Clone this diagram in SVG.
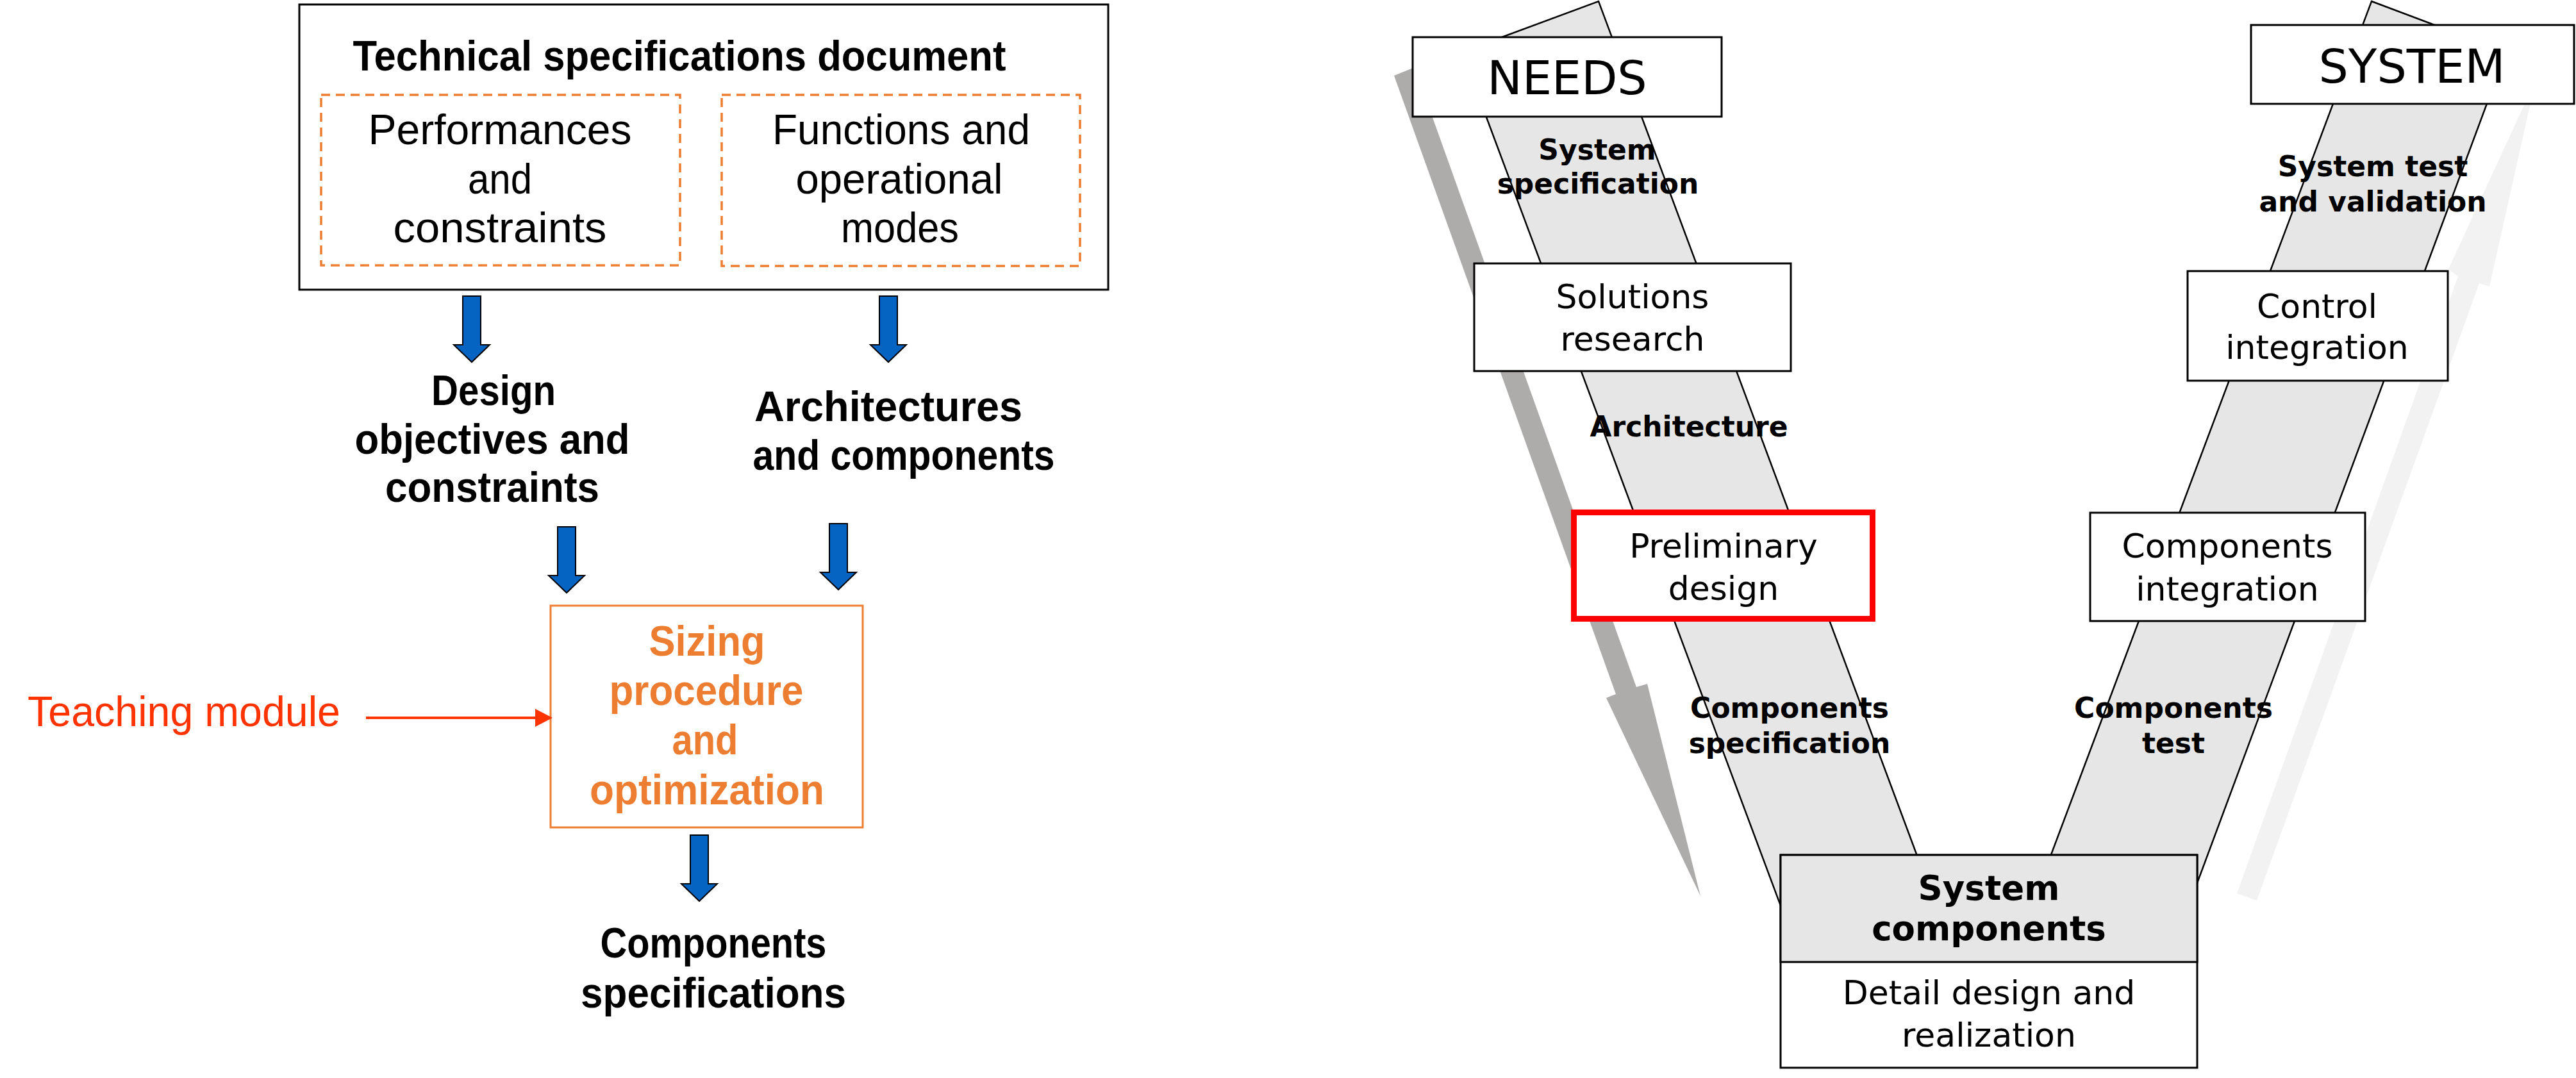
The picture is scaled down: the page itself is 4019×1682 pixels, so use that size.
<svg xmlns="http://www.w3.org/2000/svg" width="4019" height="1682" viewBox="0 0 4019 1682">
<style>
.hand{font-family:"Liberation Sans",Arial,sans-serif;font-size:67px;fill:#000;text-anchor:middle}
.b{font-weight:bold}
.org{fill:#ED7D31}
.red{fill:#FF3300}
.v{font-family:"DejaVu Sans",Verdana,sans-serif;fill:#000;text-anchor:middle}
.vbox{font-size:52px}
.vlab{font-size:44px;font-weight:bold}
.big{font-size:73px}
.box{fill:#fff;stroke:#000;stroke-width:3}
.dash{fill:none;stroke:#ED7D31;stroke-width:3.5;stroke-dasharray:14 9}
.band{fill:#E6E6E6;stroke:#000;stroke-width:2.5;stroke-linejoin:miter}
</style>
<defs>
<path id="barrow" d="M-14,-103 L14,-103 L14,-27 L28,-27 L0,0 L-28,-27 L-14,-27 Z" fill="#0563C1" stroke="#000" stroke-width="2"/>
</defs>

<!-- LEFT: flow -->
<g id="spec-doc">
<rect x="467" y="7" width="1262" height="445" fill="#fff" stroke="#000" stroke-width="3"/>
<text class="hand b" x="1060" y="110" textLength="1019" lengthAdjust="spacingAndGlyphs">Technical specifications document</text>
</g>
<g id="perf-box">
<rect class="dash" x="501" y="148" width="560" height="266"/>
<text class="hand" x="780" y="225" textLength="411" lengthAdjust="spacingAndGlyphs">Performances</text>
<text class="hand" x="780" y="302" textLength="100" lengthAdjust="spacingAndGlyphs">and</text>
<text class="hand" x="780" y="378" textLength="333" lengthAdjust="spacingAndGlyphs">constraints</text>
</g>
<g id="func-box">
<rect class="dash" x="1126" y="148" width="559" height="267"/>
<text class="hand" x="1406" y="225" textLength="402" lengthAdjust="spacingAndGlyphs">Functions and</text>
<text class="hand" x="1403" y="302" textLength="323" lengthAdjust="spacingAndGlyphs">operational</text>
<text class="hand" x="1404" y="378" textLength="184" lengthAdjust="spacingAndGlyphs">modes</text>
</g>
<g id="design-obj">
<text class="hand b" x="770" y="632" textLength="194" lengthAdjust="spacingAndGlyphs">Design</text>
<text class="hand b" x="768" y="708" textLength="429" lengthAdjust="spacingAndGlyphs">objectives and</text>
<text class="hand b" x="768" y="783" textLength="334" lengthAdjust="spacingAndGlyphs">constraints</text>
</g>
<g id="arch-comp">
<text class="hand b" x="1386" y="657" textLength="418" lengthAdjust="spacingAndGlyphs">Architectures</text>
<text class="hand b" x="1410" y="733" textLength="471" lengthAdjust="spacingAndGlyphs">and components</text>
</g>
<g id="sizing">
<rect x="859" y="945" width="487" height="346" fill="#fff" stroke="#ED7D31" stroke-width="3"/>
<text class="hand b org" x="1103" y="1023" font-size="64" textLength="181" lengthAdjust="spacingAndGlyphs">Sizing</text>
<text class="hand b org" x="1102" y="1100" font-size="64" textLength="303" lengthAdjust="spacingAndGlyphs">procedure</text>
<text class="hand b org" x="1100" y="1177" font-size="64" textLength="103" lengthAdjust="spacingAndGlyphs">and</text>
<text class="hand b org" x="1103" y="1255" font-size="64" textLength="366" lengthAdjust="spacingAndGlyphs">optimization</text>
</g>
<g id="teaching">
<text class="hand red" x="43" y="1133" font-size="64" style="text-anchor:start" textLength="488" lengthAdjust="spacingAndGlyphs">Teaching module</text>
</g>
<g id="comp-specs">
<text class="hand b" x="1113" y="1494" font-size="64" textLength="353" lengthAdjust="spacingAndGlyphs">Components</text>
<text class="hand b" x="1113" y="1572" font-size="64" textLength="414" lengthAdjust="spacingAndGlyphs">specifications</text>
</g>
<g id="connectors-left">
<use href="#barrow" transform="translate(736,565)"/>
<use href="#barrow" transform="translate(1386,565)"/>
<use href="#barrow" transform="translate(884,925)"/>
<use href="#barrow" transform="translate(1308,920)"/>
<use href="#barrow" transform="translate(1091,1406)"/>
<line x1="571" y1="1120" x2="840" y2="1120" stroke="#FF3300" stroke-width="4"/>
<polygon points="835,1106 862,1120 835,1134" fill="#FF3300"/>
</g>

<!-- RIGHT: V cycle -->
<g id="connectors-right">
<polygon points="2175,118 2207,105 2553,1072 2570,1067 2653,1398 2506,1089 2521,1083" fill="#AEABAB"/>
<polygon points="3490,1394 3835,431 3820,420 3956,125 3884,447 3868,442 3521,1405" fill="#F2F2F2"/>
<polygon class="band" points="2281,81 2494,2 3045,1480 2803,1480"/>
<polygon class="band" points="3700,2 3910,81 3390,1480 3145,1480"/>
</g>
<g id="needs">
<rect class="box" x="2204" y="58" width="482" height="124"/>
<text class="v big" x="2445" y="147">NEEDS</text>
</g>
<g id="system">
<rect class="box" x="3512" y="39" width="504" height="123"/>
<text class="v big" x="3763" y="129">SYSTEM</text>
</g>
<g id="solutions">
<rect class="box" x="2300" y="411" width="494" height="168"/>
<text class="v vbox" x="2547" y="481">Solutions</text>
<text class="v vbox" x="2547" y="547">research</text>
</g>
<g id="preliminary">
<rect x="2455.5" y="799.5" width="466" height="166" fill="#fff" stroke="#FF0000" stroke-width="9"/>
<text class="v vbox" x="2689" y="870">Preliminary</text>
<text class="v vbox" x="2689" y="936">design</text>
</g>
<g id="comp-integration">
<rect class="box" x="3261" y="800" width="429" height="169"/>
<text class="v vbox" x="3475" y="870">Components</text>
<text class="v vbox" x="3475" y="937">integration</text>
</g>
<g id="control-integration">
<rect class="box" x="3413" y="423" width="406" height="171"/>
<text class="v vbox" x="3615" y="496">Control</text>
<text class="v vbox" x="3615" y="560">integration</text>
</g>
<g id="system-components">
<rect x="2778" y="1334" width="650" height="332" fill="#fff" stroke="#000" stroke-width="3"/>
<rect x="2778" y="1334" width="650" height="167" fill="#E6E6E6" stroke="#000" stroke-width="3"/>
<text class="v" x="3103" y="1404" font-size="53" font-weight="bold">System</text>
<text class="v" x="3103" y="1467" font-size="53" font-weight="bold">components</text>
<text class="v vbox" x="3103" y="1567">Detail design and</text>
<text class="v vbox" x="3103" y="1633">realization</text>
</g>
<g id="labels">
<text class="v vlab" x="2492" y="249">System</text>
<text class="v vlab" x="2493" y="302">specification</text>
<text class="v vlab" x="2635" y="681">Architecture</text>
<text class="v vlab" x="2792" y="1120">Components</text>
<text class="v vlab" x="2792" y="1175">specification</text>
<text class="v vlab" x="3391" y="1120">Components</text>
<text class="v vlab" x="3391" y="1175">test</text>
<text class="v vlab" x="3702" y="275">System test</text>
<text class="v vlab" x="3702" y="330">and validation</text>
</g>
</svg>
